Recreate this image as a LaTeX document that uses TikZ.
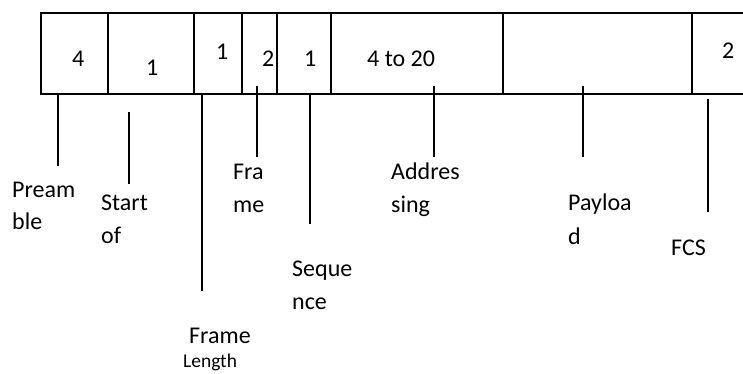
\documentclass[tikz,border=0pt]{standalone}
\usepackage{fontspec}
\setmainfont{Carlito}
\begin{document}
\begin{tikzpicture}[x=1pt,y=-1pt,
  frameline/.style={line width=1.4pt},
  lead/.style={line width=1.4pt},
  num/.style={anchor=base west,inner sep=0pt,font=\fontsize{24}{28}\selectfont},
  lbl/.style={anchor=base west,inner sep=0pt,font=\fontsize{24}{28}\selectfont},
  small/.style={anchor=base west,inner sep=0pt,font=\fontsize{19.5}{24}\selectfont}]
\useasboundingbox (0,0) rectangle (743,374);
% frame box
\draw[frameline] (743,13) -- (41,13) -- (41,94) -- (743,94);
\foreach \xx in {108,194,242,277,331,503,692}
  \draw[frameline] (\xx,13) -- (\xx,94);
% field sizes
\node[num] (n1) at (72,67) {4};
\node[num] (n2) at (146,76) {1};
\node[num] (n3) at (216,60) {1};
\node[num] (n4) at (262,67) {2};
\node[num] (n5) at (304,67) {1};
\node[num] (n6) at (367,67) {4 to 20};
\node[num] (n7) at (722,59) {2};
% leader lines
\coordinate (p1) at (58,95);  \coordinate (p2) at (58,166);
\coordinate (s1) at (129,112); \coordinate (s2) at (129,184);
\coordinate (fl1) at (202,95); \coordinate (fl2) at (202,291);
\coordinate (f1) at (257,86);  \coordinate (f2) at (257,157);
\coordinate (q1) at (310,95);  \coordinate (q2) at (310,224);
\coordinate (a1) at (434,86);  \coordinate (a2) at (434,157);
\coordinate (y1) at (583,86);  \coordinate (y2) at (583,157);
\coordinate (c1) at (708,99);  \coordinate (c2) at (708,212);
\draw[lead] (p1) -- (p2);
\draw[lead] (s1) -- (s2);
\draw[lead] (fl1) -- (fl2);
\draw[lead] (f1) -- (f2);
\draw[lead] (q1) -- (q2);
\draw[lead] (a1) -- (a2);
\draw[lead] (y1) -- (y2);
\draw[lead] (c1) -- (c2);
% labels
\node[lbl] (pre1) at (12,197) {Pream};
\node[lbl] (pre2) at (12,229) {ble};
\node[lbl] (sta1) at (101,210) {Start};
\node[lbl] (sta2) at (101,243) {of};
\node[lbl] (fra1) at (233,179) {Fra};
\node[lbl] (fra2) at (233,212) {me};
\node[lbl] (seq1) at (292,276) {Seque};
\node[lbl] (seq2) at (292,309) {nce};
\node[lbl] (frl1) at (189,343) {Frame};
\node[small] (frl2) at (183,367) {Length};
\node[lbl] (adr1) at (391,179) {Addres};
\node[lbl] (adr2) at (391,212) {sing};
\node[lbl] (pay1) at (568,210) {Payloa};
\node[lbl] (pay2) at (568,244) {d};
\node[lbl] (fcs) at (671,255) {FCS};
\end{tikzpicture}
\end{document}
